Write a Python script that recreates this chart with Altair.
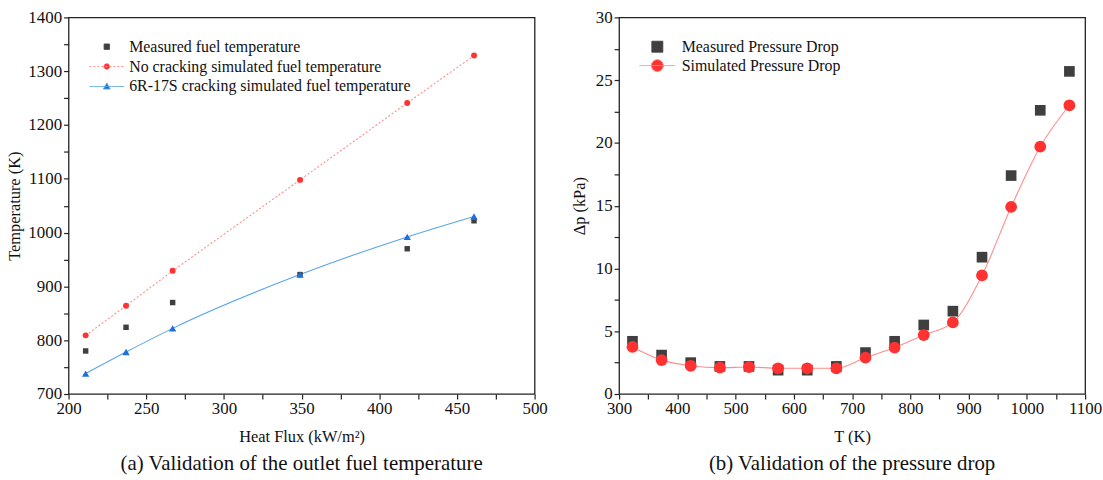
import altair as alt
import pandas as pd

FONT = "Liberation Serif"

# ---------------- Panel (a) data ----------------
heat_flux = [211, 237, 267, 349, 418, 461]
temp_measured = [780, 824, 870, 922, 970, 1022]
temp_no_cracking = [809, 864, 929, 1098, 1241, 1329]
temp_cracking = [738, 778, 822, 922, 992, 1030]
series_a = ["Measured fuel temperature",
            "No cracking simulated fuel temperature",
            "6R-17S cracking simulated fuel temperature"]

xticks_a = [200, 225, 250, 275, 300, 325, 350, 375, 400, 425, 450, 475, 500]
yticks_a = [700, 750, 800, 850, 900, 950, 1000, 1050, 1100, 1150, 1200, 1250, 1300, 1350, 1400]

# ---------------- Panel (b) data ----------------
temperature_K = [323, 373, 423, 473, 523, 573, 623, 673, 723, 773, 823, 873, 923, 973, 1023, 1073]
dp_measured = [4.2, 3.1, 2.5, 2.2, 2.2, 1.9, 1.9, 2.2, 3.3, 4.2, 5.5, 6.6, 10.9, 17.4, 22.6, 25.7]
dp_simulated = [3.75, 2.7, 2.25, 2.1, 2.15, 2.05, 2.05, 2.05, 2.9, 3.7, 4.7, 5.7, 9.45, 14.9, 19.7, 23.0]
series_b = ["Measured Pressure Drop", "Simulated Pressure Drop"]

xticks_b = [300, 350, 400, 450, 500, 550, 600, 650, 700, 750, 800, 850, 900, 950, 1000, 1050, 1100]
yticks_b = [0, 2.5, 5, 7.5, 10, 12.5, 15, 17.5, 20, 22.5, 25, 27.5, 30]

W, H = 469, 379

GRAY = "#3f3f3f"
RED = "#ff3131"
RED_LINE = "#ff8c8c"
BLUE = "#1f6fdc"
BLUE_LINE = "#5aa5ea"
INK = "#111111"
TICK = "#222222"

df_a = pd.DataFrame({
    "x": heat_flux * 3,
    "y": temp_measured + temp_no_cracking + temp_cracking,
    "series": [series_a[0]] * 6 + [series_a[1]] * 6 + [series_a[2]] * 6,
})
df_b = pd.DataFrame({
    "x": temperature_K * 2,
    "y": dp_measured + dp_simulated,
    "series": [series_b[0]] * 16 + [series_b[1]] * 16,
})


def label_axes(xticks, yticks, xstep, ystep, xtitle, ytitle, ytpad):
    common = dict(labelFont=FONT, titleFont=FONT, labelColor=INK, titleColor=INK,
                  titleFontWeight="normal", labelFontSize=17, titleFontSize=16.5,
                  labelFlush=False, labelOverlap=False, grid=False, domain=False,
                  ticks=True, tickSize=5, tickColor=TICK, tickWidth=1.2)
    lab_x = alt.Axis(orient="bottom", values=xticks, labelPadding=2, title=xtitle,
                     titlePadding=12, format="d",
                     labelExpr=f"datum.value % {xstep} === 0 ? datum.label : ''", **common)
    lab_y = alt.Axis(orient="left", values=yticks, labelPadding=2, title=ytitle,
                     titlePadding=ytpad, format="d",
                     labelExpr=f"datum.value % {ystep} === 0 ? datum.label : ''", **common)
    return lab_x, lab_y


def xy(xs, ys, ax):
    return dict(x=alt.X("x:Q", scale=xs, axis=ax[0]), y=alt.Y("y:Q", scale=ys, axis=ax[1]))


def legend_layer(df, xs, ys, ax, names, fills, strokes, paths, dashes, lx, ly, rowpad, loff):
    leg = alt.Legend(title=None, orient="none", legendX=lx, legendY=ly, symbolSize=400,
                     symbolStrokeWidth=1, labelFont=FONT, labelFontSize=16, labelColor=INK,
                     labelOffset=loff, rowPadding=rowpad, padding=0, symbolOpacity=1,
                     labelLimit=500)
    return alt.Chart(df).mark_point(filled=True, opacity=0).encode(
        **xy(xs, ys, ax),
        fill=alt.Fill("series:N", scale=alt.Scale(domain=names, range=fills), legend=leg),
        stroke=alt.Stroke("series:N", scale=alt.Scale(domain=names, range=strokes), legend=leg),
        shape=alt.Shape("series:N", scale=alt.Scale(domain=names, range=paths), legend=leg),
        strokeDash=alt.StrokeDash("series:N", scale=alt.Scale(domain=names, range=dashes), legend=leg),
    )


def caption(text):
    return alt.TitleParams(text=text, orient="bottom", font=FONT, fontSize=21,
                           fontWeight="normal", color=INK, offset=8)


# ---------------- Panel (a) ----------------
xs_a = alt.Scale(domain=[200, 500], nice=False, zero=False)
ys_a = alt.Scale(domain=[700, 1400], nice=False, zero=False)
ax_a = label_axes(xticks_a, yticks_a, 50, 100, "Heat Flux (kW/m²)", "Temperature (K)", 5)

paths_a = [
    "M-0.27,-0.27H0.27V0.27H-0.27Z",
    "M-1.75,0H1.75M-0.3,0A0.3,0.3 0 1,0 0.3,0A0.3,0.3 0 1,0 -0.3,0Z",
    "M-1.75,0H1.75M0,-0.36L0.34,0.26H-0.34Z",
]
base_a = alt.Chart(df_a)
layer_a = alt.layer(
    legend_layer(df_a, xs_a, ys_a, ax_a, series_a,
                 [GRAY, RED, BLUE], [GRAY, RED_LINE, BLUE_LINE], paths_a,
                 [[1, 0], [2, 2], [1, 0]], 28, 19, 1, 12),
    base_a.transform_filter(alt.datum.series == series_a[1]).mark_line(
        color=RED_LINE, strokeWidth=1.1, strokeDash=[2, 2]).encode(**xy(xs_a, ys_a, ax_a)),
    base_a.transform_filter(alt.datum.series == series_a[2]).mark_line(
        color=BLUE_LINE, strokeWidth=1.1, interpolate="monotone").encode(**xy(xs_a, ys_a, ax_a)),
    base_a.transform_filter(alt.datum.series == series_a[0]).mark_square(
        color=GRAY, size=30, opacity=1).encode(**xy(xs_a, ys_a, ax_a)),
    base_a.transform_filter(alt.datum.series == series_a[1]).mark_circle(
        color=RED, size=36, opacity=1).encode(**xy(xs_a, ys_a, ax_a)),
    base_a.transform_filter(alt.datum.series == series_a[2]).mark_point(
        shape="triangle-up", filled=True, color=BLUE, size=55, opacity=1).encode(**xy(xs_a, ys_a, ax_a)),
).properties(
    width=W, height=H, title=caption("(a) Validation of the outlet fuel temperature"),
)

# ---------------- Panel (b) ----------------
xs_b = alt.Scale(domain=[300, 1100], nice=False, zero=False)
ys_b = alt.Scale(domain=[0, 30], nice=False, zero=False)
ax_b = label_axes(xticks_b, yticks_b, 100, 5, "T (K)", "Δp (kPa)", 8)

paths_b = [
    "M-0.55,-0.55H0.55V0.55H-0.55Z",
    "M-1.8,0H1.8M-0.6,0A0.6,0.6 0 1,0 0.6,0A0.6,0.6 0 1,0 -0.6,0Z",
]
base_b = alt.Chart(df_b)
layer_b = alt.layer(
    legend_layer(df_b, xs_b, ys_b, ax_b, series_b,
                 [GRAY, RED], [GRAY, RED_LINE], paths_b,
                 [[1, 0], [1, 0]], 28, 19, 0, 14),
    base_b.transform_filter(alt.datum.series == series_b[1]).mark_line(
        color=RED_LINE, strokeWidth=1.1, interpolate="monotone").encode(**xy(xs_b, ys_b, ax_b)),
    base_b.transform_filter(alt.datum.series == series_b[0]).mark_square(
        color=GRAY, size=115, opacity=1).encode(**xy(xs_b, ys_b, ax_b)),
    base_b.transform_filter(alt.datum.series == series_b[1]).mark_circle(
        color=RED, size=140, opacity=1).encode(**xy(xs_b, ys_b, ax_b)),
).properties(
    width=W, height=H, title=caption("(b) Validation of the pressure drop"),
)

chart = alt.hconcat(layer_a, layer_b, spacing=22).resolve_scale(
    fill="independent", stroke="independent", shape="independent", strokeDash="independent"
).resolve_legend(
    fill="independent", stroke="independent", shape="independent", strokeDash="independent"
).properties(
    padding={"left": 6, "top": 6, "right": 0, "bottom": 0},
    background="white",
).configure_view(
    stroke=TICK, strokeWidth=1.3
)

chart.save("out.html", embed_options={"renderer": "svg", "actions": False})
